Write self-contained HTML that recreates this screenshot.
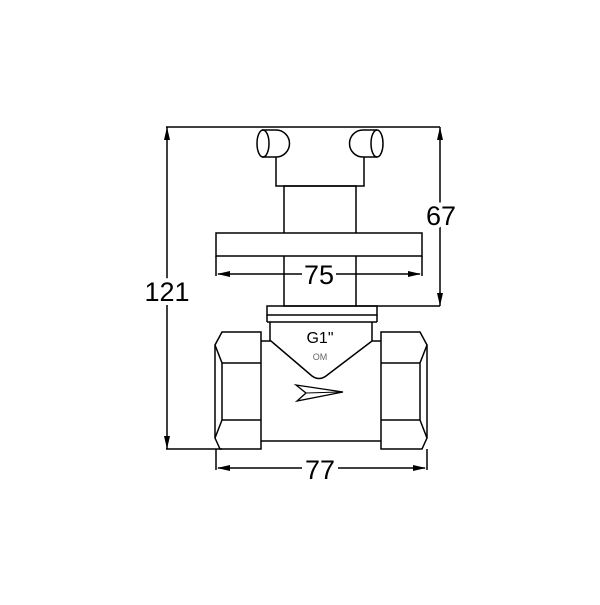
<!DOCTYPE html><html><head><style>body{margin:0;background:#fff}</style></head><body>
<svg width="600" height="600" xmlns="http://www.w3.org/2000/svg" font-family="Liberation Sans, sans-serif">
<g fill="none" stroke="#000" stroke-width="1.5">
<polyline points="166,127 440,127"/>
<line x1="167" y1="127" x2="167" y2="449"/>
<line x1="166" y1="449" x2="222" y2="449"/>
<line x1="440" y1="127" x2="440" y2="306"/>
<line x1="356" y1="306" x2="440" y2="306"/>
<!-- knobs -->
<path d="M262,130 H276 A13.5,13.5 0 0 1 276,157 H262"/>
<ellipse cx="263" cy="143.5" rx="6" ry="13.5"/>
<path d="M377,130 H363 A13.5,13.5 0 0 0 363,157 H377"/>
<ellipse cx="377" cy="143.5" rx="6" ry="13.5"/>
<polyline points="276,157 276,186 364,186 364,157"/>
<rect x="284" y="186" width="72" height="120"/>
<rect x="216" y="233" width="206" height="23" fill="#fff"/>
<line x1="216" y1="256" x2="216" y2="276"/>
<line x1="422" y1="256" x2="422" y2="276"/>
<line x1="218" y1="274" x2="302" y2="274"/>
<line x1="336" y1="274" x2="420" y2="274"/>
<!-- cap -->
<rect x="267" y="306" width="110" height="9"/>
<line x1="267" y1="315" x2="267" y2="322"/><line x1="377" y1="315" x2="377" y2="322"/>
<line x1="267" y1="322" x2="377" y2="322"/>
<line x1="270" y1="322" x2="270" y2="341"/><line x1="372" y1="322" x2="372" y2="341"/>
<!-- body -->
<path d="M261,341 H271 L312,376 Q319,381 326,376 L372,341 H381"/>
<line x1="261" y1="441" x2="381" y2="441"/>
<!-- nuts -->
<path d="M261,332 H222 L215,345 V438 L220,449 H261 Z"/>
<path d="M215,345 L222,363 V420 L215,438"/>
<line x1="222" y1="363" x2="261" y2="363"/><line x1="222" y1="420" x2="261" y2="420"/>
<path d="M381,332 H420 L427,345 V438 L422,449 H381 Z"/>
<path d="M427,345 L420,363 V420 L427,438"/>
<line x1="381" y1="363" x2="420" y2="363"/><line x1="381" y1="420" x2="420" y2="420"/>
<!-- flow arrow -->
<polygon points="296,385 343,392 297,401 306,393" stroke-width="1.3"/>
<line x1="306" y1="393" x2="340" y2="392" stroke-width="1"/>
<!-- 77 dim -->
<line x1="216" y1="449" x2="216" y2="470"/><line x1="427" y1="449" x2="427" y2="470"/>
<line x1="218" y1="468" x2="302" y2="468"/><line x1="338" y1="468" x2="425" y2="468"/>
</g>
<g fill="#000">
<polygon points="167,127 164,140 170,140"/><polygon points="167,449 164,436 170,436"/>
<polygon points="440,127 437,140 443,140"/><polygon points="440,306 437,293 443,293"/>
<polygon points="217,274 230,271 230,277"/><polygon points="421,274 408,271 408,277"/>
<polygon points="217,468 230,465 230,471"/><polygon points="426,468 413,465 413,471"/>
</g>
<g font-size="27" text-anchor="middle">
<text x="319" y="284">75</text>
<text x="320" y="479">77</text>
<text x="441" y="225" style="paint-order:stroke" stroke="#fff" stroke-width="8">67</text>
<text x="167" y="301" style="paint-order:stroke" stroke="#fff" stroke-width="8">121</text>
</g>
<text x="320" y="343" font-size="16" text-anchor="middle">G1"</text>
<text x="320" y="360" font-size="9" fill="#666" text-anchor="middle">OM</text>
</svg>
</body></html>
